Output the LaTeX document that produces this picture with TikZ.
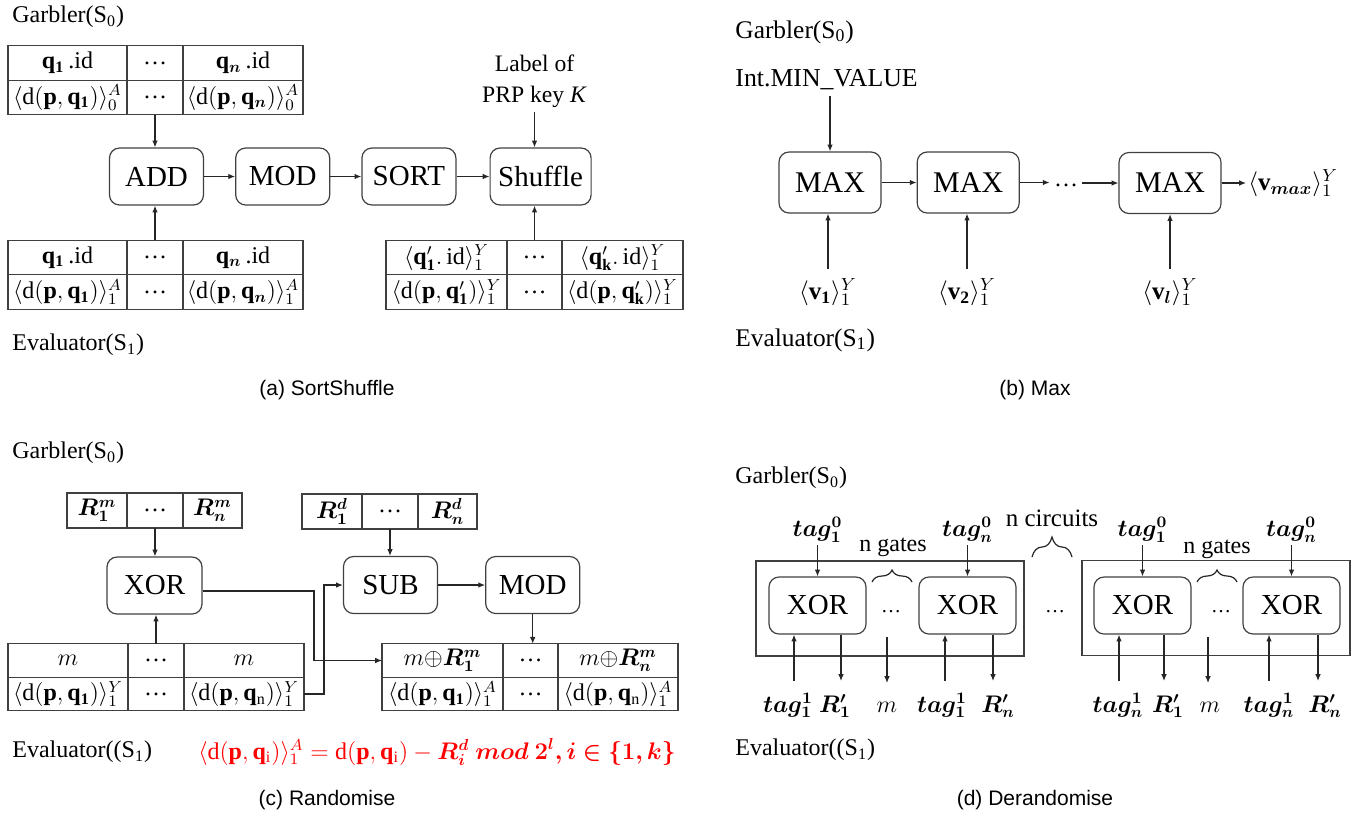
\RequirePackage{fix-cm}
\documentclass[tikz,border=0pt]{standalone}
\usepackage{amsmath}
\usepackage{fontspec}
\setmainfont{Liberation Serif}
\setsansfont{Liberation Sans}
\usepackage{bm}
\usepackage{xcolor}
\usetikzlibrary{arrows.meta,shapes,positioning,decorations.pathreplacing}
\tikzstyle{wire} = [draw,line width=0.6pt,black!85]
\tikzstyle{gate edge} = [draw=black!75,line width=0.6pt]

\begin{document}
\begin{tikzpicture}
[x=0.5pt,y=-0.5pt,
lineDecorateout/.style={-{Latex[length=3.4pt,width=2.8pt]},wire}, %
opbox/.style={gate edge,rounded corners=5pt,minimum width=47pt,minimum height=28.5pt,inner sep=1pt,font=\fontsize{14.5}{16}\selectfont}, %
maxbox/.style={minimum width=51pt,minimum height=30.5pt,font=\fontsize{15}{17}\selectfont}, %
cell/.style={gate edge,inner sep=0pt,outer sep=0pt,minimum height=17.25pt,font=\fontsize{12}{14}\selectfont}, %
circuit/.style={gate edge,inner sep=0pt,minimum width=134pt,minimum height=47.5pt}, %
party/.style={anchor=west,inner sep=0pt,font=\fontsize{12}{14}\selectfont}, %
pin/.style={inner sep=2pt,font=\fontsize{12}{14}\selectfont}, %
caption/.style={font=\sffamily\fontsize{10.5}{12}\selectfont}]

\useasboundingbox (0,0) rectangle (1363,816);

%% (a) SortShuffle
\node[party] (garblerA) at (12,17) {Garbler(S\textsubscript{0})};
\node[cell,minimum width=59.5pt] (ta1) at (67.5,63) {$\mathbf{q}_{\mathbf{1}}$\,.id};
\node[cell,minimum width=28pt,right=0pt of ta1] (ta2) {\ldots};
\node[cell,minimum width=60pt,right=0pt of ta2] (ta3) {$\mathbf{q}_{\bm{n}}$\,.id};
\node[cell,minimum width=59.5pt,below=0pt of ta1] (ta4) {$\langle\mathrm{d}(\mathbf{p},\mathbf{q}_{\mathbf{1}})\rangle_0^A$};
\node[cell,minimum width=28pt,below=0pt of ta2] (ta5) {\ldots};
\node[cell,minimum width=60pt,below=0pt of ta3] (ta6) {$\langle\mathrm{d}(\mathbf{p},\mathbf{q}_{\bm{n}})\rangle_0^A$};

\node[opbox] (add) at (156.5,176.5) {ADD};
\node[opbox,right=15.5pt of add] (modA) {MOD};
\node[opbox,right=15.5pt of modA] (sort) {SORT};
\node[opbox,minimum width=50.5pt,right=16.5pt of sort] (shuffle) {Shuffle};
\node[pin,align=center,anchor=south,font=\fontsize{11.8}{15.5}\selectfont] (prp) at (534.5,112) {Label of\\PRP key \textit{K}};

\node[cell,minimum width=59.5pt] (tb1) at (67.5,257.5) {$\mathbf{q}_{\mathbf{1}}$\,.id};
\node[cell,minimum width=28pt,right=0pt of tb1] (tb2) {\ldots};
\node[cell,minimum width=60pt,right=0pt of tb2] (tb3) {$\mathbf{q}_{\bm{n}}$\,.id};
\node[cell,minimum width=59.5pt,below=0pt of tb1] (tb4) {$\langle\mathrm{d}(\mathbf{p},\mathbf{q}_{\mathbf{1}})\rangle_1^A$};
\node[cell,minimum width=28pt,below=0pt of tb2] (tb5) {\ldots};
\node[cell,minimum width=60pt,below=0pt of tb3] (tb6) {$\langle\mathrm{d}(\mathbf{p},\mathbf{q}_{\bm{n}})\rangle_1^A$};

\node[cell,minimum width=60.5pt] (ts1) at (446.5,257.5) {$\langle\mathbf{q}'_{\mathbf{1}}.\,\mathrm{id}\rangle_1^Y$};
\node[cell,minimum width=27.5pt,right=0pt of ts1] (ts2) {\ldots};
\node[cell,minimum width=60.5pt,right=0pt of ts2] (ts3) {$\langle\mathbf{q}'_{\mathbf{k}}.\,\mathrm{id}\rangle_1^Y$};
\node[cell,minimum width=60.5pt,below=0pt of ts1] (ts4) {$\langle\mathrm{d}(\mathbf{p},\mathbf{q}'_{\mathbf{1}})\rangle_1^Y$};
\node[cell,minimum width=27.5pt,below=0pt of ts2] (ts5) {\ldots};
\node[cell,minimum width=60.5pt,below=0pt of ts3] (ts6) {$\langle\mathrm{d}(\mathbf{p},\mathbf{q}'_{\mathbf{k}})\rangle_1^Y$};

\node[party] (evalA) at (12,345) {Evaluator(S\textsubscript{1})};
\node[caption] (capA) at (327,390) {(a) SortShuffle};

\draw[lineDecorateout] (ta5.south) -- (ta5.south |- add.north);
\draw[lineDecorateout] (tb2.north) -- (tb2.north |- add.south);
\draw[lineDecorateout] (prp.south) -- (prp.south |- shuffle.north);
\draw[lineDecorateout] (ts2.north) -- (ts2.north |- shuffle.south);
\path
\foreach \startnode/\endnode in {add/modA, modA/sort, sort/shuffle}
{
(\startnode) edge[lineDecorateout] (\endnode)
};

%% (b) Max
\node[party,font=\fontsize{12.7}{15}\selectfont] (garblerB) at (735,32) {Garbler(S\textsubscript{0})};
\node[party,inner sep=2.5pt,font=\fontsize{12.9}{15}\selectfont] (intmin) at (730,80) {Int.MIN\_VALUE};
\node[opbox,maxbox] (max1) at (830,182.5) {MAX};
\node[opbox,maxbox,right=17.5pt of max1] (max2) {MAX};
\node[pin] (dotsMax) at (1066,185) {\ldots};
\node[opbox,maxbox] (max3) at (1170,183) {MAX};
\node[pin,anchor=west,inner sep=1pt,font=\fontsize{12.5}{14}\selectfont] (vmax) at (1246,183) {$\langle\mathbf{v}_{\bm{max}}\rangle_1^Y$};

\foreach \labelname/\x/\txt in {v1/828/$\langle\mathbf{v}_{\mathbf{1}}\rangle_1^Y$, v2/967/$\langle\mathbf{v}_{\mathbf{2}}\rangle_1^Y$, vl/1170/$\langle\mathbf{v}_{\bm{l}}\rangle_1^Y$}
{
\node[pin,anchor=north,inner ysep=4.5pt,font=\fontsize{12.5}{14}\selectfont] (\labelname) at (\x,269) {\txt};
}
\node[party,font=\fontsize{12.7}{15}\selectfont] (evalB) at (735,340) {Evaluator(S\textsubscript{1})};
\node[caption] (capB) at (1035,390) {(b) Max};

\draw[lineDecorateout] (max1.north |- intmin.south) -- (max1.north);
\draw[lineDecorateout] (max1) -- (max2);
\draw[lineDecorateout] (max2.east) -- (max2.east -| dotsMax.west);
\draw[lineDecorateout] (dotsMax.east |- max3.west) -- (max3.west);
\draw[lineDecorateout] (max3.east) -- (max3.east -| vmax.west);
\foreach \labelname/\gate in {v1/max1, v2/max2, vl/max3}
{
\draw[lineDecorateout] (\labelname.north) -- (\labelname.north |- \gate.south);
}

%% (c) Randomise
\node[party] (garblerC) at (12,453) {Garbler(S\textsubscript{0})};
\node[cell,minimum width=30pt,minimum height=17.5pt] (rm1) at (97,510.5) {$\bm{R_1^m}$};
\node[cell,minimum width=28pt,minimum height=17.5pt,right=0pt of rm1] (rm2) {\ldots};
\node[cell,minimum width=29.5pt,minimum height=17.5pt,right=0pt of rm2] (rm3) {$\bm{R_n^m}$};
\node[cell,minimum width=30pt,minimum height=17.5pt] (rd1) at (332,511.5) {$\bm{R_1^d}$};
\node[cell,minimum width=28pt,minimum height=17.5pt,right=0pt of rd1] (rd2) {\ldots};
\node[cell,minimum width=29.5pt,minimum height=17.5pt,right=0pt of rd2] (rd3) {$\bm{R_n^d}$};

\node[opbox,minimum width=47.5pt] (xorC) at (154.5,585.5) {XOR};
\node[opbox] (sub) at (390.5,585) {SUB};
\node[opbox,right=23.5pt of sub] (modC) {MOD};

\node[cell,minimum width=60pt,minimum height=16.75pt] (bl1) at (68,660.5) {$m$};
\node[cell,minimum width=28pt,minimum height=16.75pt,right=0pt of bl1] (bl2) {\ldots};
\node[cell,minimum width=60pt,minimum height=16.75pt,right=0pt of bl2] (bl3) {$m$};
\node[cell,minimum width=60pt,minimum height=16.75pt,below=0pt of bl1] (bl4) {$\langle\mathrm{d}(\mathbf{p},\mathbf{q}_{\mathbf{1}})\rangle_1^Y$};
\node[cell,minimum width=28pt,minimum height=16.75pt,below=0pt of bl2] (bl5) {\ldots};
\node[cell,minimum width=60pt,minimum height=16.75pt,below=0pt of bl3] (bl6) {$\langle\mathrm{d}(\mathbf{p},\mathbf{q}_{\mathrm{n}})\rangle_1^Y$};

\node[cell,minimum width=60.5pt,minimum height=16.75pt] (out1) at (442.5,660.5) {$m{\oplus}\bm{R_1^m}$};
\node[cell,minimum width=27.5pt,minimum height=16.75pt,right=0pt of out1] (out2) {\ldots};
\node[cell,minimum width=60pt,minimum height=16.75pt,right=0pt of out2] (out3) {$m{\oplus}\bm{R_n^m}$};
\node[cell,minimum width=60.5pt,minimum height=16.75pt,below=0pt of out1] (out4) {$\langle\mathrm{d}(\mathbf{p},\mathbf{q}_{\mathbf{1}})\rangle_1^A$};
\node[cell,minimum width=27.5pt,minimum height=16.75pt,below=0pt of out2] (out5) {\ldots};
\node[cell,minimum width=60pt,minimum height=16.75pt,below=0pt of out3] (out6) {$\langle\mathrm{d}(\mathbf{p},\mathbf{q}_{\mathrm{n}})\rangle_1^A$};

\node[party] (evalC) at (12,752) {Evaluator((S\textsubscript{1})};
\node[pin,text=red] (formula) at (437,752) {$\langle\mathrm{d}(\mathbf{p},\mathbf{q}_{\mathrm{i}})\rangle_1^A=\mathrm{d}(\mathbf{p},\mathbf{q}_{\mathrm{i}})-\bm{R_i^d}\ \bm{mod}\ \bm{2^l, i\in\{1,k\}}$};
\node[caption] (capC) at (327,800) {(c) Randomise};

\coordinate (bendXor) at (314,0);
\coordinate (bendSub) at (324,0);
\draw[lineDecorateout] (rm2.south) -- (rm2.south |- xorC.north);
\draw[lineDecorateout] (rd2.south) -- (rd2.south |- sub.north);
\draw[lineDecorateout] (bl2.north) -- (bl2.north |- xorC.south);
\draw[lineDecorateout] (sub) -- (modC);
\draw[lineDecorateout] (modC.south) -- (modC.south |- out2.north);
\draw[lineDecorateout] ([yshift=-2.75pt]xorC.east) -| (bendXor |- out1.west) -- (out1.west);
\draw[lineDecorateout] (bl6.east) -| (bendSub |- sub.west) -- (sub.west);

%% (d) Derandomise
\node[party] (garblerD) at (735,478) {Garbler(S\textsubscript{0})};
\node[circuit] (circA) at (890,608.5) {};
\node[circuit] (circB) at (1216,608) {};
\foreach \gate/\x in {xorA1/817.5, xorA2/967.5, xorB1/1142.5, xorB2/1291.5}
{
\node[opbox,minimum width=48.5pt] (\gate) at (\x,605.5) {XOR};
}
\foreach \dotsname/\x in {dotsA/891, dotsC/1055, dotsB/1221}
{
\node[pin,font=\fontsize{10}{12}\selectfont] (\dotsname) at (\x,612) {\ldots};
}

%% tags on top
\foreach \labelname/\x/\txt/\gate in {tagA1/817.5/$\bm{tag_1^0}$/xorA1, tagA2/967.5/$\bm{tag_n^0}$/xorA2, tagB1/1142.5/$\bm{tag_1^0}$/xorB1, tagB2/1291.5/$\bm{tag_n^0}$/xorB2}
{
\node[pin,anchor=south,inner sep=1pt] (\labelname) at (\x,545) {\txt};
\draw[lineDecorateout] (\labelname.south) -- (\labelname.south |- \gate.north);
}

%% braces
\coordinate (gatesA1) at (872,582);
\coordinate (gatesA2) at (912,582);
\coordinate (gatesB1) at (1197,582);
\coordinate (gatesB2) at (1237,582);
\coordinate (circs1) at (1032,557);
\coordinate (circs2) at (1072,557);
\draw[wire,decorate,decoration={brace,amplitude=6pt}] (gatesA1) -- (gatesA2);
\draw[wire,decorate,decoration={brace,amplitude=6pt}] (gatesB1) -- (gatesB2);
\draw[wire,decorate,decoration={brace,amplitude=10pt}] (circs1) -- (circs2);
\node[pin] (gatesA) at (893,547) {n gates};
\node[pin] (gatesB) at (1217,549) {n gates};
\node[pin,font=\fontsize{12.5}{14}\selectfont] (circuits) at (1052,518) {n circuits};

%% pins under the gates
\foreach \pinname/\x/\gate in {inA1/794/xorA1, inA2/945/xorA2, inB1/1119/xorB1, inB2/1269/xorB2}
{
\coordinate (\pinname) at (\x,681);
\draw[lineDecorateout] (\pinname) -- (\pinname |- \gate.south);
}
\foreach \pinname/\x/\gate in {outA1/841/xorA1, outA2/993/xorA2, outB1/1164/xorB1, outB2/1318/xorB2}
{
\coordinate (\pinname) at (\x,681);
\draw[lineDecorateout] (\pinname |- \gate.south) -- (\pinname);
}
\coordinate (mAtop) at (887,637);
\coordinate (mA) at (887,683);
\coordinate (mBtop) at (1208,637);
\coordinate (mB) at (1208,683);
\draw[lineDecorateout] (mAtop) -- (mA);
\draw[lineDecorateout] (mBtop) -- (mB);

\foreach \labelname/\x/\txt in {labA1/788/$\bm{tag_1^1}$, labA2/835/$\bm{R'_1}$, labA3/887/$m$, labA4/942/$\bm{tag_1^1}$, labA5/998/$\bm{R'_n}$, labB1/1118/$\bm{tag_n^1}$, labB2/1168/$\bm{R'_1}$, labB3/1210/$m$, labB4/1269/$\bm{tag_n^1}$, labB5/1325/$\bm{R'_n}$}
{
\node[pin,anchor=base] (\labelname) at (\x,712) {\txt};
}

\node[party] (evalD) at (735,750) {Evaluator((S\textsubscript{1})};
\node[caption] (capD) at (1035,800) {(d) Derandomise};

\end{tikzpicture}
\end{document}
